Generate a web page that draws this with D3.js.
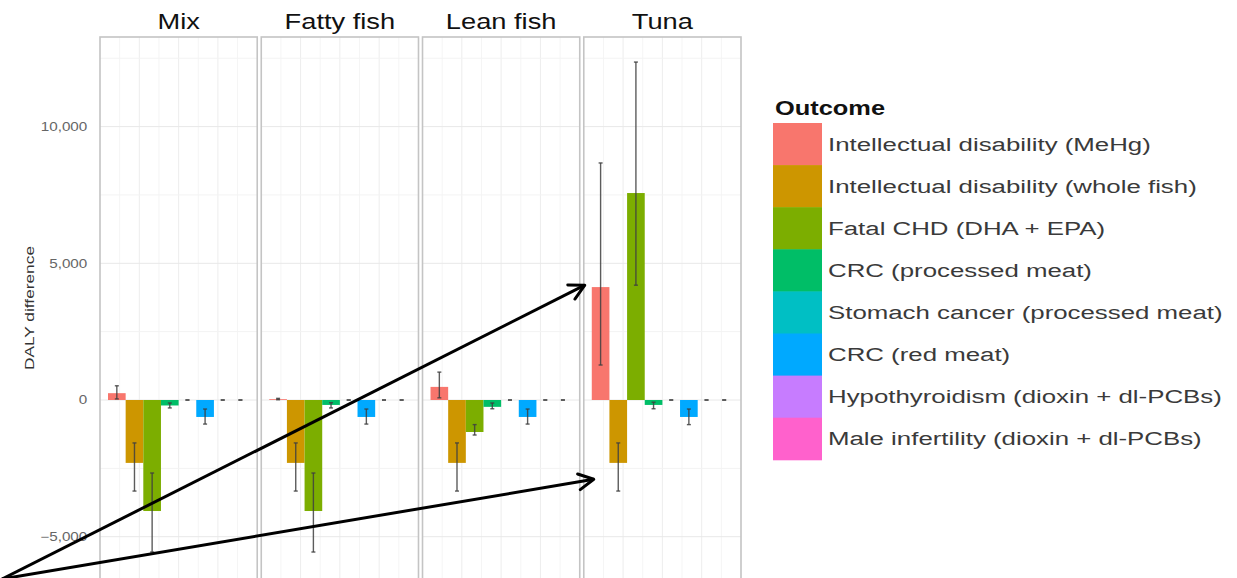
<!DOCTYPE html>
<html>
<head>
<meta charset="utf-8">
<script src="https://cdn.jsdelivr.net/npm/d3@7"></script>
<style>
  html, body { margin: 0; padding: 0; background: #ffffff; }
  svg { display: block; }
  text { font-family: "Liberation Sans", Arial, Helvetica, sans-serif; }
</style>
</head>
<body>
<svg id="chart" width="1237" height="578"></svg>
<script>
// ---------------- data ----------------
const facets = ["Mix", "Fatty fish", "Lean fish", "Tuna"];
const outcomes = [
  "Intellectual disability (MeHg)",
  "Intellectual disability (whole fish)",
  "Fatal CHD (DHA + EPA)",
  "CRC (processed meat)",
  "Stomach cancer (processed meat)",
  "CRC (red meat)",
  "Hypothyroidism (dioxin + dl-PCBs)",
  "Male infertility (dioxin + dl-PCBs)"
];
const outcomeColors = ["#F8766D", "#CD9600", "#7CAE00", "#00BE67", "#00BFC4", "#00A9FF", "#C77CFF", "#FF61CC"];

const mixValues   = [250, -2300, -4060, -200, 0, -620, 0, 0];
const mixLow      = [40, -3330, -5560, -290, 0, -880, 0, 0];
const mixHigh     = [520, -1570, -2670, -110, 0, -330, 0, 0];

const fattyValues = [30, -2300, -4060, -180, 0, -620, 0, 0];
const fattyLow    = [10, -3330, -5560, -290, 0, -880, 0, 0];
const fattyHigh   = [60, -1570, -2670, -100, 0, -330, 0, 0];

const leanValues  = [480, -2300, -1170, -250, 0, -620, 0, 0];
const leanLow     = [80, -3330, -1280, -320, 0, -880, 0, 0];
const leanHigh    = [1020, -1570, -900, -110, 0, -330, 0, 0];

const tunaValues  = [4130, -2300, 7570, -180, 0, -620, 0, 0];
const tunaLow     = [1280, -3330, 4200, -320, 0, -900, 0, 0];
const tunaHigh    = [8670, -1570, 12360, -80, 0, -330, 0, 0];

const yTicks = [-5000, 0, 5000, 10000];
const yMinorTicks = [-2500, 2500, 7500, 12500];
const yTitle = "DALY difference";
const legendTitle = "Outcome";

// arrow annotations point at Tuna bars
const arrowTargets = [
  { facet: "Tuna", value: 4200, dx: 1 },
  { facet: "Tuna", value: -2900, dx: 10 }
];

// ---------------- build rows ----------------
const seriesByFacet = {
  "Mix": [mixValues, mixLow, mixHigh],
  "Fatty fish": [fattyValues, fattyLow, fattyHigh],
  "Lean fish": [leanValues, leanLow, leanHigh],
  "Tuna": [tunaValues, tunaLow, tunaHigh]
};
const rows = [];
facets.forEach(f => {
  const [v, lo, hi] = seriesByFacet[f];
  outcomes.forEach((o, i) => rows.push({ facet: f, outcome: o, value: v[i], lo: lo[i], hi: hi[i] }));
});

// ---------------- layout ----------------
const svg = d3.select("#chart");
const panelTop = 37, panelBottom = 580;

const fx = d3.scaleBand().domain(facets).range([100, 741]).paddingInner(0.025).paddingOuter(0);
const pw = fx.bandwidth();
const y = d3.scaleLinear().domain([-6510, 13277]).range([578, 37]);
const xb = d3.scaleBand().domain(outcomes).range([8, pw - 8]).padding(0);
const color = d3.scaleOrdinal().domain(outcomes).range(outcomeColors);

function stretchedText(sel, x, yy, s) {
  return sel.attr("transform", `translate(${x},${yy}) scale(${s},1)`);
}

// panels
facets.forEach(f => {
  const g = svg.append("g").attr("transform", `translate(${fx(f)},0)`);
  g.append("rect").attr("x", 0).attr("y", panelTop).attr("width", pw).attr("height", panelBottom - panelTop)
    .attr("fill", "#ffffff");
  // vertical grid
  d3.range(1, 8).forEach(k => {
    g.append("line").attr("x1", pw * k / 8).attr("x2", pw * k / 8)
      .attr("y1", panelTop).attr("y2", panelBottom)
      .attr("stroke", k % 2 === 0 ? "#ededed" : "#f5f5f5").attr("stroke-width", 1);
  });
  // horizontal grid
  yMinorTicks.forEach(t => {
    g.append("line").attr("x1", 0).attr("x2", pw).attr("y1", y(t)).attr("y2", y(t))
      .attr("stroke", "#f3f3f3").attr("stroke-width", 1);
  });
  yTicks.forEach(t => {
    g.append("line").attr("x1", 0).attr("x2", pw).attr("y1", y(t)).attr("y2", y(t))
      .attr("stroke", "#e8e8e8").attr("stroke-width", 1);
  });

  const data = rows.filter(r => r.facet === f);
  g.selectAll("rect.bar").data(data).join("rect").attr("class", "bar")
    .attr("x", d => xb(d.outcome))
    .attr("width", xb.bandwidth())
    .attr("y", d => y(Math.max(0, d.value)))
    .attr("height", d => Math.abs(y(d.value) - y(0)))
    .attr("fill", d => color(d.outcome));

  // error bars
  const cap = 2;
  const eb = g.selectAll("g.err").data(data).join("g").attr("class", "err")
    .attr("stroke", "#404040").attr("stroke-width", 1.4).attr("stroke-opacity", 0.85);
  eb.append("line")
    .attr("x1", d => xb(d.outcome) + xb.bandwidth() / 2)
    .attr("x2", d => xb(d.outcome) + xb.bandwidth() / 2)
    .attr("y1", d => y(d.lo)).attr("y2", d => y(d.hi));
  eb.append("line")
    .attr("x1", d => xb(d.outcome) + xb.bandwidth() / 2 - cap)
    .attr("x2", d => xb(d.outcome) + xb.bandwidth() / 2 + cap)
    .attr("y1", d => y(d.lo)).attr("y2", d => y(d.lo));
  eb.append("line")
    .attr("x1", d => xb(d.outcome) + xb.bandwidth() / 2 - cap)
    .attr("x2", d => xb(d.outcome) + xb.bandwidth() / 2 + cap)
    .attr("y1", d => y(d.hi)).attr("y2", d => y(d.hi));

  // border
  g.append("rect").attr("x", 0).attr("y", panelTop).attr("width", pw).attr("height", panelBottom - panelTop)
    .attr("fill", "none").attr("stroke", "#c4c4c4").attr("stroke-width", 1.6);

  // strip label
  stretchedText(svg.append("text"), fx(f) + pw / 2, 29, 1.24)
    .attr("text-anchor", "middle").attr("font-size", 22).attr("fill", "#111").text(f);
});

// y axis
const yAxis = d3.axisLeft(y).tickValues(yTicks).tickSize(0).tickPadding(10).tickFormat(d3.format(","));
const ga = svg.append("g").attr("transform", `translate(${fx(facets[0])},0)`).call(yAxis);
ga.select(".domain").remove();
ga.selectAll("text").attr("font-size", 12).attr("fill", "#666")
  .attr("font-family", "Liberation Sans, Arial, sans-serif")
  .attr("transform", "scale(1.27,1)");

// y title
svg.append("text")
  .attr("transform", "translate(34,308) rotate(-90)")
  .attr("text-anchor", "middle").attr("font-size", 13).attr("fill", "#333")
  .attr("textLength", 124).attr("lengthAdjust", "spacingAndGlyphs")
  .text(yTitle);

// legend
const lx = 773, ly = 123, keyW = 49, keyH = 42.1;
stretchedText(svg.append("text"), 775, 115, 1.27)
  .attr("font-size", 20).attr("font-weight", "bold").attr("fill", "#111").text(legendTitle);
const lg = svg.append("g");
lg.selectAll("rect").data(outcomes).join("rect")
  .attr("x", lx).attr("y", (d, i) => ly + i * keyH)
  .attr("width", keyW).attr("height", keyH + 0.5)
  .attr("fill", d => color(d));
outcomes.forEach((o, i) => {
  stretchedText(lg.append("text"), 828, ly + i * keyH + keyH / 2 + 6.5, 1.36)
    .attr("font-size", 19).attr("fill", "#3a3a3a").text(o);
});

// arrows
const origin = [2, 579];
arrowTargets.forEach(t => {
  const tip = [fx(t.facet) + t.dx, y(t.value)];
  const ang = Math.atan2(tip[1] - origin[1], tip[0] - origin[0]);
  const L = 17, spread = Math.PI / 6.5;
  const a1 = [tip[0] - L * Math.cos(ang - spread), tip[1] - L * Math.sin(ang - spread)];
  const a2 = [tip[0] - L * Math.cos(ang + spread), tip[1] - L * Math.sin(ang + spread)];
  svg.append("line").attr("x1", origin[0]).attr("y1", origin[1]).attr("x2", tip[0]).attr("y2", tip[1])
    .attr("stroke", "#000").attr("stroke-width", 3);
  svg.append("path").attr("d", `M${a1[0]},${a1[1]}L${tip[0]},${tip[1]}L${a2[0]},${a2[1]}`)
    .attr("fill", "none").attr("stroke", "#000").attr("stroke-width", 3)
    .attr("stroke-linecap", "round").attr("stroke-linejoin", "round");
});
</script>
</body>
</html>
